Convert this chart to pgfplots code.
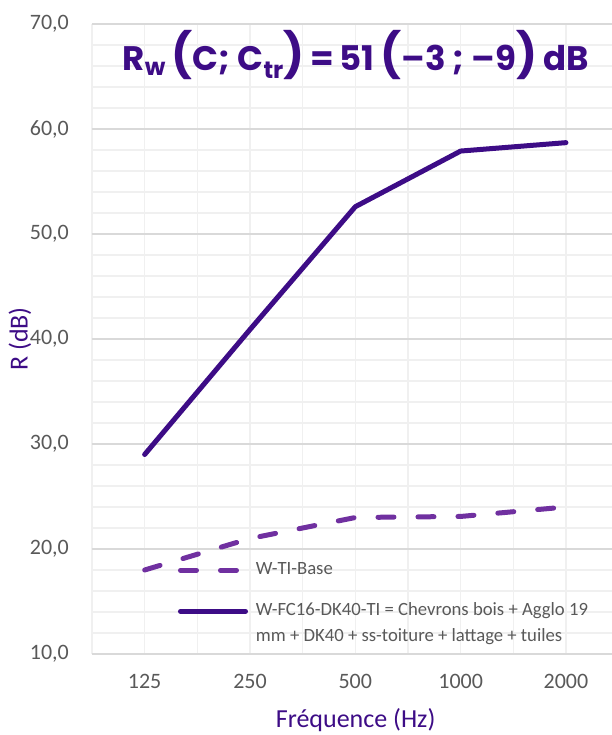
\documentclass[border=0pt]{standalone}
\usepackage{pgfplots}
\pgfplotsset{compat=1.18}
\usepackage{fontspec}
\setmainfont{Carlito}
\newfontfamily\titlefont{Poppins}

\definecolor{violetfonce}{HTML}{3D0C86}
\definecolor{violetclair}{HTML}{7030A0}
\definecolor{gristexte}{HTML}{595959}
\definecolor{grismaj}{HTML}{D9D9D9}
\definecolor{grismin}{HTML}{F0F0F0}

\begin{document}
\begin{tikzpicture}
\begin{axis}[
  scale only axis,
  width=520pt, height=630pt,
  xmin=-0.5, xmax=4.437,
  ymin=10, ymax=70,
  axis line style={draw=none},
  xtick={0,...,4},
  xticklabels={125,250,500,1000,2000},
  minor xtick={-0.5,0.5,1.5,2.5,3.5},
  ytick={10,20,...,70},
  minor ytick={12,14,...,68},
  major tick length=0pt, minor tick length=0pt,
  xmajorgrids, xminorgrids, ymajorgrids, yminorgrids,
  major x grid style={grismin, line width=1.6pt},
  minor x grid style={grismin, line width=1.6pt},
  major y grid style={grismaj, line width=2pt},
  minor y grid style={grismin, line width=1.6pt},
  /pgf/number format/assume math mode=true,
  /pgf/number format/fixed,
  /pgf/number format/fixed zerofill,
  /pgf/number format/precision=1,
  /pgf/number format/use comma,
  xticklabel style={font=\fontsize{22}{26}\selectfont, text=gristexte,
    inner sep=0pt, anchor=north, yshift=-20pt},
  yticklabel style={font=\fontsize{22}{26}\selectfont, text=gristexte,
    inner sep=0pt, anchor=east, xshift=-23pt},
  xlabel={Fréquence (Hz)},
  ylabel={R (dB)},
  every axis x label/.style={at={(axis description cs:0.507,0)}, anchor=center,
    yshift=-66pt, font=\fontsize{26}{30}\selectfont, text=violetfonce},
  every axis y label/.style={at={(axis description cs:0,0.5)}, anchor=center,
    xshift=-72pt, rotate=90, font=\fontsize{26}{30}\selectfont, text=violetfonce},
  legend cell align=left,
  legend image code/.code={\draw[#1] (0pt,0pt) -- (65pt,0pt);},
  legend style={at={(axis description cs:0.165,0.1468)}, anchor=north west,
    draw=none, fill=none, inner sep=0pt,
    font=\fontsize{18.7}{26}\selectfont, text=gristexte,
    nodes={inner sep=0pt, text height=13pt, text depth=4pt},
    row sep=24pt,
    /tikz/every odd column/.append style={column sep=8pt}},
]
\addplot[violetclair, line width=5pt, line cap=round,
  dash pattern=on 16pt off 24pt]
  coordinates {(0,18) (1,21) (2,23) (3,23.1) (4,24)};
\addlegendentry{W-TI-Base}
\addplot[violetfonce, line width=5pt, line cap=round, line join=round]
  coordinates {(0,29) (1,40.9) (2,52.6) (3,57.9) (4,58.7)};
\addlegendentry{\vtop{\hbox{W-FC16-DK40-TI = Chevrons bois + Agglo 19}\hbox{mm + DK40 + ss-toiture + lattage + tuiles}}}

\node[anchor=center, text=violetfonce, font=\titlefont\bfseries\fontsize{34}{40}\selectfont]
  at (axis description cs:0.507,0.951)
  {R\textsubscript{w}\,{\fontsize{44}{44}\selectfont(}C;\ C\textsubscript{tr}{\fontsize{44}{44}\selectfont)}\,=\,51\,{\fontsize{44}{44}\selectfont(}–3 ; –9{\fontsize{44}{44}\selectfont)}\,dB};
\end{axis}
\pgfresetboundingbox
\path[use as bounding box] (-92pt,-81pt) rectangle (520pt,654pt);
\end{tikzpicture}
\end{document}
